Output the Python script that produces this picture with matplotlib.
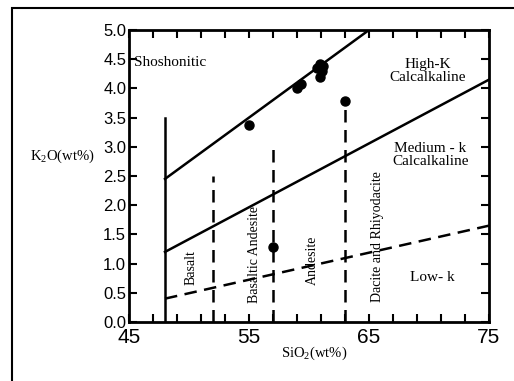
import numpy as np
import matplotlib.pyplot as plt
from matplotlib.patches import Rectangle

# sample points (SiO2, K2O)
sio2 = [55.0, 59.0, 59.3, 60.7, 60.9, 61.1, 60.9, 61.2, 57.0, 63.0]
k2o = [3.38, 4.00, 4.07, 4.35, 4.42, 4.30, 4.20, 4.38, 1.28, 3.78]

# boundary lines
upper_x = [48, 65]
upper_y = [2.45, 5.0]
mid_x = [48, 75]
mid_y = [1.2, 4.15]
low_x = [48, 75]
low_y = [0.4, 1.65]
vert_x = [48, 48]
vert_y = [0, 3.5]
dash_xs = [52, 57, 63]
dash_tops = [2.5, 3.05, 3.65]

plt.rcParams['mathtext.fontset'] = 'custom'
plt.rcParams['mathtext.rm'] = 'Liberation Serif'

fig = plt.figure(figsize=(5.14, 3.81), dpi=100)
ax = fig.add_axes([129/514, 1-322/381, (489-129)/514, (322-30)/381])

fig.patches.append(Rectangle((12/514, -0.1), 1.2, 1-8/381+0.1, transform=fig.transFigure,
                             fill=False, ec='black', lw=1.5))

ax.plot(upper_x, upper_y, 'k-', lw=1.8)
ax.plot(mid_x, mid_y, 'k-', lw=1.8)
ax.plot(low_x, low_y, 'k--', lw=1.8, dashes=(5, 3))
ax.plot(vert_x, vert_y, 'k-', lw=1.8)
for x, t in zip(dash_xs, dash_tops):
    ax.plot([x, x], [0, t], 'k--', lw=1.8, dashes=(5, 3))

ax.plot(sio2, k2o, 'ko', ms=6.5)

ax.set_xlim(45, 75)
ax.set_ylim(0, 5)
ax.set_xticks([45, 55, 65, 75])
ax.set_xticks(np.arange(45, 76, 2), minor=True)
ax.set_yticks(np.arange(0, 5.01, 0.5))
ax.set_yticklabels(['%.1f' % v for v in np.arange(0, 5.01, 0.5)])
ax.tick_params(which='both', direction='in', top=True, right=True, width=1.5)
ax.tick_params(which='major', length=6)
ax.tick_params(which='minor', length=6)
ax.tick_params(axis='x', which='major', labelsize=15, pad=4)
ax.tick_params(axis='y', labelsize=12, pad=2)
for lab in ax.get_xticklabels() + ax.get_yticklabels():
    lab.set_family('Liberation Sans')
for s in ax.spines.values():
    s.set_linewidth(2)

serif = 'Liberation Serif'
ax.text(45.45, 4.44, 'Shoshonitic', family=serif, fontsize=11, va='center')
ax.text(69.9, 4.29, 'High-K\nCalcalkaline', family=serif, fontsize=11, ha='center', va='center', linespacing=1.0)
ax.text(70.1, 2.86, 'Medium - k\nCalcalkaline', family=serif, fontsize=11, ha='center', va='center', linespacing=1.0)
ax.text(70.3, 0.77, 'Low- k', family=serif, fontsize=11, ha='center', va='center')
ax.text(50.2, 0.94, 'Basalt', family=serif, fontsize=10, rotation=90, ha='center', va='center')
ax.text(55.5, 1.16, 'Basaltic Andesite', family=serif, fontsize=10, rotation=90, ha='center', va='center')
ax.text(60.3, 1.06, 'Andesite', family=serif, fontsize=10, rotation=90, ha='center', va='center')
ax.text(65.7, 1.47, 'Dacite and Rhiyodacite', family=serif, fontsize=10, rotation=90, ha='center', va='center')

fig.text(62/514, 1-156/381, 'K$_2$O(wt%)', family=serif, fontsize=10.5, ha='center', va='center')
fig.text(314/514, 1-353/381, 'SiO$_2$(wt%)', family=serif, fontsize=10.5, ha='center', va='center')

fig.savefig('out.png', dpi=100)
